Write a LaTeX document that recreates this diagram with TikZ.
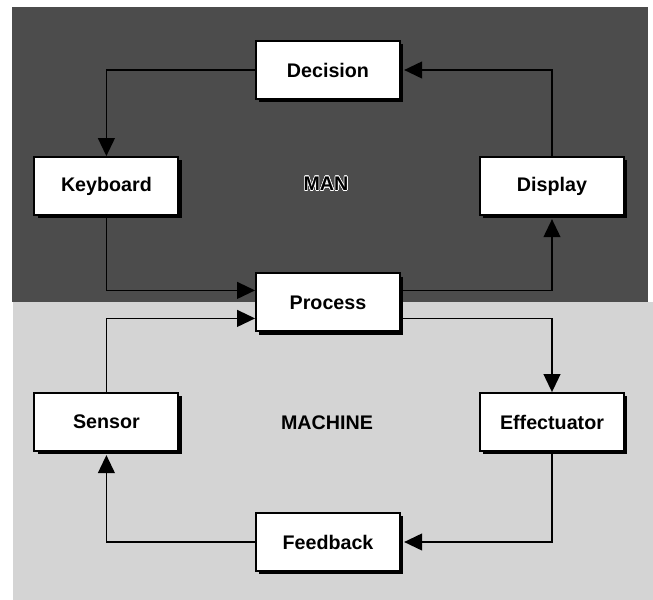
\documentclass[tikz,border=0pt]{standalone}
\usepackage{fontspec}
\setmainfont{Liberation Sans}
\usepackage[copies]{contour}
\contourlength{0.4pt}
\usetikzlibrary{arrows.meta,shadows}

\tikzset{
  boite/.style={draw=black,line width=1.3pt,fill=white,
    minimum width=3.6cm,minimum height=1.45cm,
    font=\fontsize{14}{16}\selectfont\bfseries,
    drop shadow={shadow xshift=0.08cm,shadow yshift=-0.08cm,fill=black,opacity=1}},
  etiquette/.style={font=\fontsize{14}{16}\selectfont\bfseries},
  fleche/.style={line width=1.2pt,-{Triangle[length=0.45cm,width=0.42cm]}},
}

\begin{document}
\begin{tikzpicture}
    \def\ombre{0.08cm}
    \useasboundingbox (0,0) rectangle (16.325,-15);
 % fonds
 \fill[black!70] (0.3,-0.175) rectangle (16.2,-7.55);
 \fill[black!17] (0.325,-7.55) rectangle (16.325,-15);

 \node[boite] (decision) at (8.2,-1.75)  {Decision};
 \node[boite] (keyboard) at (2.66,-4.65) {Keyboard};
 \node[boite] (display)  at (13.8,-4.65) {Display};
 \node[boite] (process)  at (8.2,-7.56)  {Process};
 \node[boite] (sensor)   at (2.66,-10.55) {Sensor};
 \node[boite] (effect)   at (13.8,-10.55) {Effectuator};
 \node[boite] (feedback) at (8.2,-13.55) {Feedback};

 \node[etiquette] (man)     at (8.15,-4.6)  {\contour{white}{MAN}};
 \node[etiquette] (machine) at (8.175,-10.575) {MACHINE};

 % boucle homme
 \draw[fleche] (decision.west) -| (keyboard.north);
 \draw[fleche] (keyboard.south) |- ([yshift=0.3cm]process.west);
 \draw[fleche] ([yshift=0.3cm]process.east) -| ([yshift=-\ombre]display.south);
 \draw[fleche] (display.north) |- ([xshift=\ombre]decision.east);

 % boucle machine
 \draw[fleche] (sensor.north) |- ([yshift=-0.4cm]process.west);
 \draw[fleche] ([yshift=-0.4cm]process.east) -| (effect.north);
 \draw[fleche] (effect.south) |- ([xshift=\ombre]feedback.east);
 \draw[fleche] (feedback.west) -| ([yshift=-\ombre]sensor.south);

\end{tikzpicture}
\end{document}
